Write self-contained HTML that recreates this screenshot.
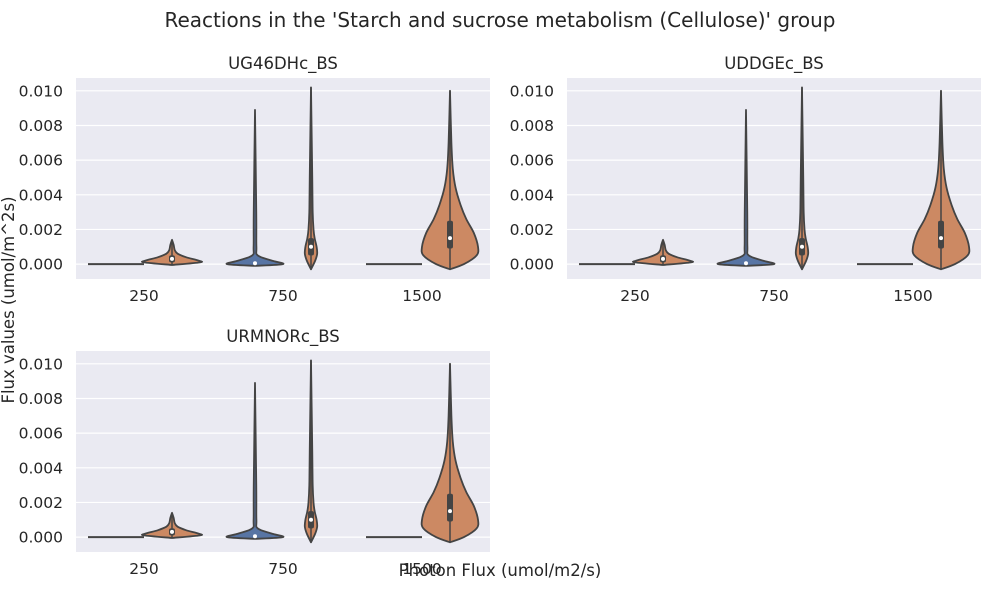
<!DOCTYPE html>
<html><head><meta charset="utf-8"><style>
body{margin:0;background:#fff;}
svg text{font-family:"DejaVu Sans","Liberation Sans",sans-serif;fill:#262626;}
</style></head><body>
<svg id="chart" width="1000" height="600" xmlns="http://www.w3.org/2000/svg">
<text x="500" y="27" font-size="20" text-anchor="middle">Reactions in the 'Starch and sucrose metabolism (Cellulose)' group</text>
<text transform="translate(14,300) rotate(-90)" font-size="16.5" text-anchor="middle">Flux values (umol/m^2s)</text>
<text x="500" y="576" font-size="16.5" text-anchor="middle">Photon Flux (umol/m2/s)</text>
</svg>
<script>
const panelTitles = ['UG46DHc_BS','UDDGEc_BS','URMNORc_BS'];
const categories = ['250','750','1500'];
const yTicks = [0,0.002,0.004,0.006,0.008,0.010];
const blueLevels = [
  null,
  [-0.0001,0,0.0002,0.0005,0.001,0.003,0.0089],
  null
];
const blueWidths = [
  null,
  [0,1,0.6,0.1,0.05,0.045,0],
  null
];
const orangeLevels = [
  [-0.00005,0.0001,0.0002,0.0004,0.0006,0.0008,0.0011,0.0014],
  [-0.0003,0.0002,0.0006,0.001,0.0015,0.002,0.003,0.005,0.0102],
  [-0.0003,0,0.0005,0.001,0.0018,0.0026,0.0034,0.0044,0.0055,0.007,0.01]
];
const orangeWidths = [
  [0,1,0.95,0.5,0.2,0.1,0.06,0],
  [0,0.15,0.22,0.2,0.13,0.09,0.06,0.045,0],
  [0,0.5,0.95,1,0.85,0.58,0.38,0.2,0.1,0.05,0]
];
const orangeBox = [[0.0001,0.0003,0.0005],[0.0005,0.001,0.0015],[0.0009,0.0015,0.0025]];
const blueMedian = [null,0.00005,null];

const svg=document.getElementById('chart');
const NS='http://www.w3.org/2000/svg';
function mk(tag,attrs,parent){const e=document.createElementNS(NS,tag);for(const k in attrs)e.setAttribute(k,attrs[k]);(parent||svg).appendChild(e);return e;}
const panels=[{x:76,y:78,w:414,h:201},{x:567,y:78,w:414,h:201},{x:76,y:351,w:414,h:201}];
const yMin=-0.00086, yMax=0.01074;
const HALF=28;
panels.forEach((p,pi)=>{
  const g=mk('g',{});
  
  
  const ys=v=>p.y+p.h-(v-yMin)/(yMax-yMin)*p.h;
  const xs=i=>p.x+68+i*139;
  const bg=mk('rect',{x:p.x,y:p.y,width:p.w,height:p.h,fill:'#eaeaf2'},g);
  
  
  yTicks.forEach(t=>{
    const l=mk('line',{x1:p.x,x2:p.x+p.w,y1:ys(t),y2:ys(t),stroke:'#fff','stroke-width':1.2},g);
    
    
    const tx=mk('text',{x:p.x-13,y:ys(t)+5.5,'font-size':15.5,'text-anchor':'end'},g);
    tx.textContent=t.toFixed(3);
    
    
  });
  categories.forEach((c,ci)=>{
    const tx=mk('text',{x:xs(ci),y:p.y+p.h+22,'font-size':15.5,'text-anchor':'middle'},g);
    tx.textContent=c;
    
    
    const cb=xs(ci)-28, co=xs(ci)+28;
    if(blueLevels[ci]){
      drawViolin(g,cb,blueLevels[ci],blueWidths[ci],'#5875a4',ys);
      const m=mk('circle',{cx:cb,cy:ys(blueMedian[ci]),r:2,fill:'#fff'},g);
      
      
    } else {
      const l=mk('line',{x1:cb-HALF,x2:cb+HALF,y1:ys(0),y2:ys(0),stroke:'#444','stroke-width':2},g);
      
      
    }
    drawViolin(g,co,orangeLevels[ci],orangeWidths[ci],'#cc8963',ys);
    const lv=orangeLevels[ci];
    const w=mk('line',{x1:co,x2:co,y1:ys(lv[0]),y2:ys(lv[lv.length-1]),stroke:'#444','stroke-width':1.5},g);
    
    
    const b=orangeBox[ci];
    const bx=mk('rect',{x:co-3,y:ys(b[2]),width:6,height:ys(b[0])-ys(b[2]),fill:'#444',rx:2},g);
    
    
    const m=mk('circle',{cx:co,cy:ys(b[1]),r:2,fill:'#fff'},g);
    
    
  });
  const t=mk('text',{x:p.x+p.w/2,y:p.y-9,'font-size':16.5,'text-anchor':'middle'},g);
  t.textContent=panelTitles[pi];
  
  
});
function drawViolin(g,cx,levels,widths,fill,ys){
  const right=[],left=[];
  for(let i=0;i<levels.length;i++){right.push([cx+widths[i]*HALF,ys(levels[i])]);left.push([cx-widths[i]*HALF,ys(levels[i])]);}
  function seg(pts){
    let d='';
    const n=pts.length;
    for(let i=0;i<n-1;i++){
      const p0=pts[Math.max(i-1,0)],p1=pts[i],p2=pts[i+1],p3=pts[Math.min(i+2,n-1)];
      const c1=[p1[0]+(p2[0]-p0[0])/6,p1[1]+(p2[1]-p0[1])/6];
      const c2=[p2[0]-(p3[0]-p1[0])/6,p2[1]-(p3[1]-p1[1])/6];
      d+=' C'+c1[0]+','+c1[1]+' '+c2[0]+','+c2[1]+' '+p2[0]+','+p2[1];
    }
    return d;
  }
  let d='M'+right[0][0]+','+right[0][1]+seg(right);
  const lr=left.slice().reverse();
  d+=' L'+lr[0][0]+','+lr[0][1]+seg(lr)+'Z';
  const v=mk('path',{d:d,fill:fill,stroke:'#444','stroke-width':1.8,'stroke-linejoin':'round'},g);
  
  
}
</script>
</body></html>
